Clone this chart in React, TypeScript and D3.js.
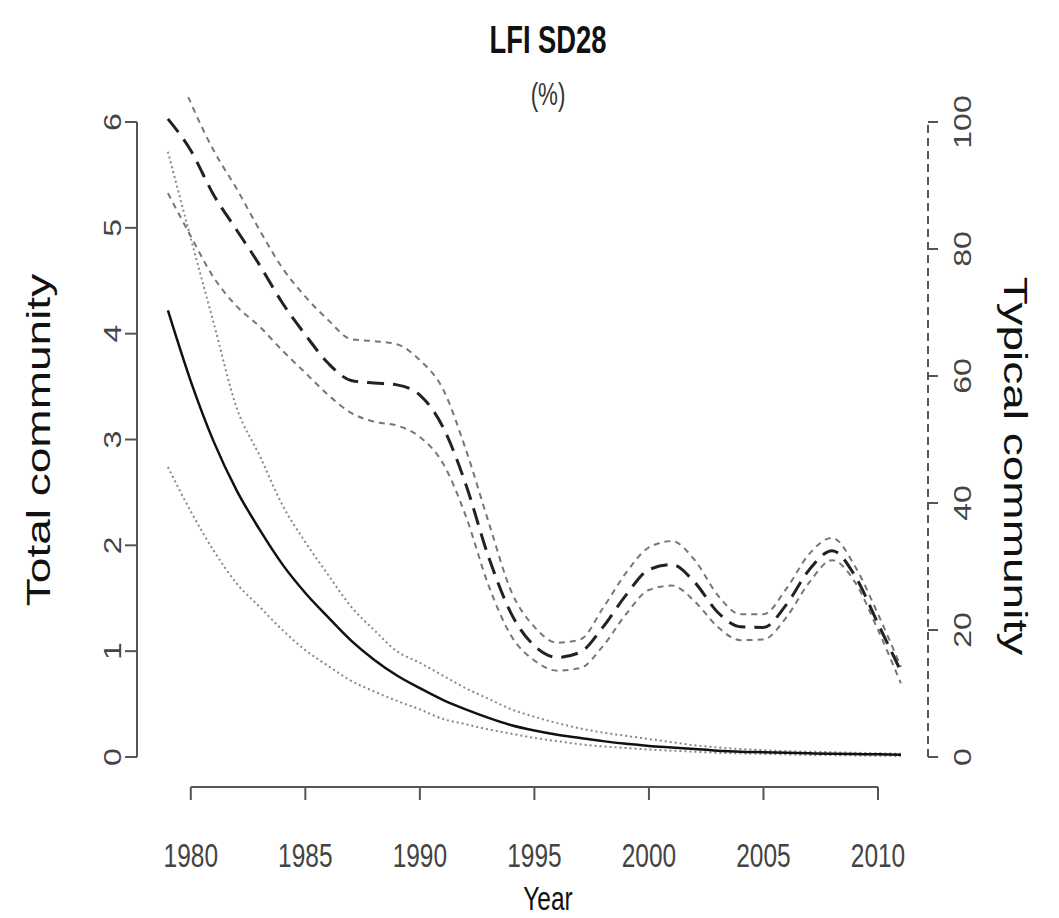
import React from "react";
import * as d3 from "d3";

const years = [1979,1980,1981,1982,1983,1984,1985,1986,1987,1988,1989,1990,1991,1992,1993,1994,1995,1996,1997,1998,1999,2000,2001,2002,2003,2004,2005,2006,2007,2008,2009,2010,2011];

// Total community (left axis)
const totalMean = [4.22,3.55,2.98,2.52,2.15,1.82,1.55,1.32,1.1,0.92,0.77,0.65,0.54,0.45,0.37,0.3,0.25,0.21,0.18,0.15,0.125,0.105,0.09,0.075,0.06,0.05,0.045,0.04,0.035,0.03,0.028,0.025,0.022];
const totalUpper = [5.72,4.9,4.1,3.3,2.85,2.38,2.03,1.72,1.42,1.2,1.0,0.89,0.77,0.65,0.55,0.45,0.38,0.32,0.27,0.23,0.2,0.17,0.14,0.11,0.09,0.075,0.065,0.055,0.05,0.045,0.04,0.035,0.03];
const totalLower = [2.74,2.32,1.95,1.64,1.42,1.2,1.01,0.86,0.72,0.62,0.53,0.45,0.36,0.31,0.26,0.22,0.18,0.15,0.12,0.1,0.085,0.07,0.06,0.05,0.04,0.035,0.03,0.025,0.02,0.018,0.015,0.012,0.01];

// Typical community (right axis, %)
const typMean = [100.5,95.5,88.5,83,77.5,71.5,66.5,62,59.3,58.9,58.6,57,52,43,31.5,22.5,17.5,15.7,16.5,20.5,25.5,29.5,30.3,27.5,22.8,20.5,20.4,24,29.5,32.5,28.5,21,13.5];
const typUpper = [112,103,95.5,89.5,83,77,72.5,68.8,65.8,65.5,65,62.5,58,48.5,37,26,20.5,18,18.5,23.5,29,33,34,31,25.5,22.5,22.5,26.5,32,34.5,30,22.5,14.2];
const typLower = [88.8,82,75.5,71,67.8,64,60.5,57,54.2,52.8,52.2,50.4,46.3,38,27,19,15.2,13.6,14,17.5,22.5,26.3,27,24.5,20.5,18.4,18.5,22,27.5,31,27.5,20,11.6];

const xTicks = [1980,1985,1990,1995,2000,2005,2010];
const leftTicks = [0,1,2,3,4,5,6];
const rightTicks = [0,20,40,60,80,100];

const W = 1059, H = 918;
const SQ = 0.72;
const FONT = "'Liberation Sans', Arial, sans-serif";

export default function App() {
  const x = d3.scaleLinear().domain([1980, 2010]).range([190.8, 878]);
  const yL = d3.scaleLinear().domain([0, 6]).range([757, 122]);
  const yR = d3.scaleLinear().domain([0, 100]).range([757, 122]);
  const clipX0 = x(1979 - 0.04 * 32), clipX1 = x(2011 + 0.04 * 32);
  const clipY0 = yL(6.24), clipY1 = yL(-0.24);

  const mk = (vals: number[], sc: any) =>
    d3.line<number>().x((_, i) => x(years[i])).y((v) => sc(v)).curve(d3.curveMonotoneX)(vals) || "";

  const txt = (s: string, tx: number, ty: number, size: number, rot = 0, weight = "normal", color = "#333") => (
    <text
      transform={`translate(${tx},${ty}) scale(${SQ},1) rotate(${rot})`}
      textAnchor="middle"
      dominantBaseline="central"
      fontSize={size}
      fontWeight={weight}
      fontFamily={FONT}
      fill={color}
    >
      {s}
    </text>
  );

  const axisCol = "#555";

  return (
    <svg width={W} height={H} style={{ position: "absolute", left: 0, top: 0, background: "#fff" }}>
      <defs>
        <clipPath id="plotclip">
          <rect x={clipX0} y={clipY0} width={clipX1 - clipX0} height={clipY1 - clipY0} />
        </clipPath>
      </defs>
      <rect x={0} y={0} width={W} height={H} fill="#fff" />

      {txt("LFI SD28", 548, 40, 38, 0, "bold", "#111")}
      {txt("(%)", 548, 95, 31, 0, "normal", "#333")}

      {/* left axis */}
      <line x1={137} x2={137} y1={yL(0)} y2={yL(6)} stroke={axisCol} strokeWidth={2} />
      {leftTicks.map((t) => (
        <g key={"l" + t}>
          <line x1={125} x2={137} y1={yL(t)} y2={yL(t)} stroke={axisCol} strokeWidth={2} />
          {txt(String(t), 113, yL(t), 32, -90, "normal", "#444")}
        </g>
      ))}
      {txt("Total community", 38, 440, 46, -90, "normal", "#111")}

      {/* right axis */}
      <line x1={928} x2={928} y1={yR(0)} y2={yR(100)} stroke={axisCol} strokeWidth={2} strokeDasharray="8,5" />
      {rightTicks.map((t) => (
        <g key={"r" + t}>
          <line x1={928} x2={938} y1={yR(t)} y2={yR(t)} stroke={axisCol} strokeWidth={2} />
          {txt(String(t), 963, yR(t), 32, -90, "normal", "#444")}
        </g>
      ))}
      {txt("Typical community", 1016, 466, 46, 90, "normal", "#111")}

      {/* bottom axis */}
      <line x1={x(1980)} x2={x(2010)} y1={787} y2={787} stroke={axisCol} strokeWidth={2} />
      {xTicks.map((t) => (
        <g key={"x" + t}>
          <line x1={x(t)} x2={x(t)} y1={787} y2={800} stroke={axisCol} strokeWidth={2} />
          {txt(String(t), x(t), 855, 34, 0, "normal", "#444")}
        </g>
      ))}
      {txt("Year", 548, 898, 34, 0, "normal", "#111")}

      <g clipPath="url(#plotclip)" fill="none">
        <path d={mk(totalUpper, yL)} stroke="#888" strokeWidth={2} strokeDasharray="2,3" />
        <path d={mk(totalLower, yL)} stroke="#888" strokeWidth={2} strokeDasharray="2,3" />
        <path d={mk(totalMean, yL)} stroke="#111" strokeWidth={2.5} />
        <path d={mk(typUpper, yR)} stroke="#777" strokeWidth={2} strokeDasharray="6,5" />
        <path d={mk(typLower, yR)} stroke="#777" strokeWidth={2} strokeDasharray="6,5" />
        <path d={mk(typMean, yR)} stroke="#222" strokeWidth={3} strokeDasharray="17,9" />
      </g>
    </svg>
  );
}
